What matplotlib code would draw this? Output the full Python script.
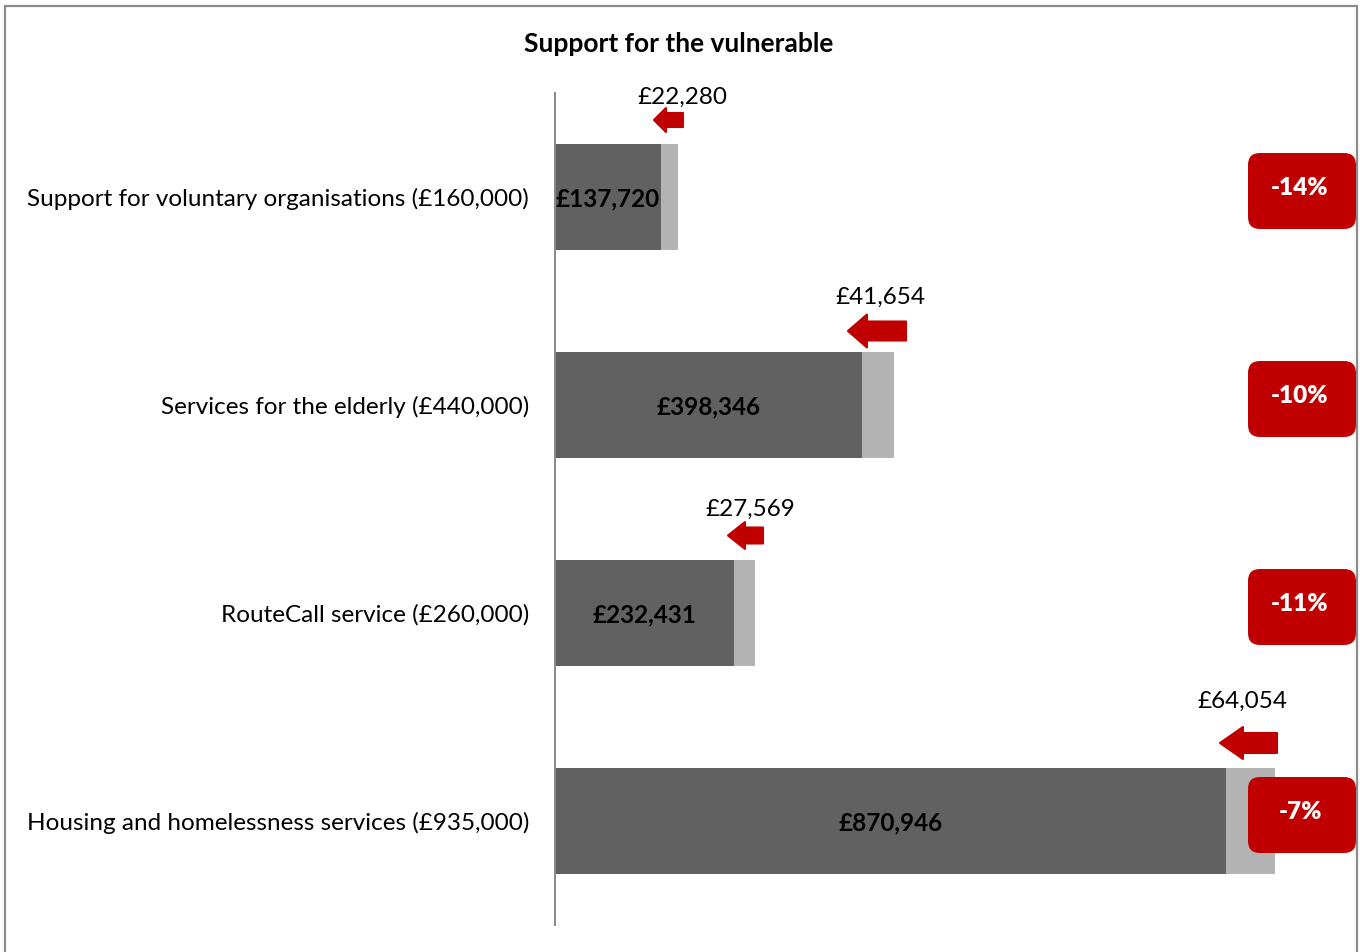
import matplotlib
matplotlib.use("Agg")
import matplotlib.pyplot as plt
from matplotlib.patches import Polygon, FancyBboxPatch
from matplotlib.lines import Line2D
from matplotlib import transforms as mtransforms

# Budget data
categories = [
    "Support for voluntary organisations (£160,000)",
    "Services for the elderly (£440,000)",
    "RouteCall service (£260,000)",
    "Housing and homelessness services (£935,000)",
]
budget_total = [160000, 440000, 260000, 935000]
budget_after = [137720, 398346, 232431, 870946]
reduction = [22280, 41654, 27569, 64054]
reduction_pct = ["-14%", "-10%", "-11%", "-7%"]

# Styling
DARK = "#616161"
LIGHT = "#b3b3b3"
RED = "#c00000"
FRAME = "#8c8c8c"
FONT = ["Lato", "DejaVu Sans"]
plt.rcParams["font.family"] = FONT
FS = 17.5

W, H = 1360, 952
fig = plt.figure(figsize=(W / 100, H / 100), dpi=100)
fig.patch.set_facecolor("white")

# Axes: category axis line at x=555px, rows between y=93px and y=925px
ax_left, ax_right = 555, 555 + 770.14
ax_top, ax_bottom = 93, 925
ax = fig.add_axes([ax_left / W, 1 - ax_bottom / H,
                   (ax_right - ax_left) / W, (ax_bottom - ax_top) / H])
ax.set_xlim(0, 1_000_000)
ax.set_ylim(len(categories) - 0.5, -0.5)
for s in ["top", "right", "bottom"]:
    ax.spines[s].set_visible(False)
ax.spines["left"].set_color("#888888")
ax.spines["left"].set_linewidth(1.4)
ax.set_xticks([])
ax.set_yticks([])
ax.patch.set_alpha(0)

rows = list(range(len(categories)))
bar_h = 0.514
ax.barh(rows, budget_after, height=bar_h, color=DARK, zorder=2)
ax.barh(rows, reduction, left=budget_after, height=bar_h, color=LIGHT, zorder=2)

PX_ROW = (ax_bottom - ax_top) / len(categories)   # pixels per row
PX_X = 1_000_000 / (ax_right - ax_left)           # pounds per pixel

# Category labels and values inside the bars
for i in rows:
    ax.text(-26 * PX_X, i + 2 / PX_ROW, categories[i], ha="right",
            va="center", fontsize=FS, color="black", clip_on=False)
    ax.text(budget_after[i] / 2, i + 2 / PX_ROW, f"£{budget_after[i]:,}",
            ha="center", va="center", fontsize=FS, fontweight="bold",
            color="black", zorder=3)

# Reduction arrows (pointing left) with their amounts above
arrow_right = [166200, 455800, 270100, 937500]
arrow_tip = [128500, 380400, 224600, 863500]
arrow_head = [144100, 405100, 246700, 893300]
arrow_dy = [-77, -74, -77.5, -78]        # px from row centre
arrow_body = [7, 9.5, 8, 10]             # half height of shaft, px
arrow_half = [12, 16.5, 13.5, 16]        # half height of head, px
label_dx = [6000, -18000, -7000, -43000]
label_dy = [-100, -108, -104, -120]

for i in rows:
    yc = i + arrow_dy[i] / PX_ROW
    b = arrow_body[i] / PX_ROW
    h = arrow_half[i] / PX_ROW
    pts = [
        (arrow_tip[i], yc),
        (arrow_head[i], yc - h),
        (arrow_head[i], yc - b),
        (arrow_right[i], yc - b),
        (arrow_right[i], yc + b),
        (arrow_head[i], yc + b),
        (arrow_head[i], yc + h),
    ]
    ax.add_patch(Polygon(pts, closed=True, facecolor=RED, edgecolor=RED,
                         linewidth=1.5, joinstyle="round", clip_on=False,
                         zorder=4))
    ax.text(budget_total[i] + label_dx[i], i + label_dy[i] / PX_ROW,
            f"£{reduction[i]:,}", ha="center", va="center", fontsize=FS,
            color="black", clip_on=False)

# Percentage badges on the right, drawn in pixel space
pix = mtransforms.Affine2D().scale(1, -1).translate(0, H)  # top-down pixels
for i in rows:
    yc = ax_top + PX_ROW * (i + 0.5)
    badge = FancyBboxPatch((1248, yc - 44), 108, 76,
                           boxstyle="round,pad=0,rounding_size=12",
                           facecolor=RED, edgecolor="none",
                           transform=pix, zorder=5)
    fig.add_artist(badge)
    fig.text(1300 / W, 1 - (yc - 9) / H, reduction_pct[i], ha="center",
             va="center", fontsize=FS, fontweight="heavy", color="white",
             zorder=6)

# Title
fig.text(679 / W, 1 - 44 / H, "Support for the vulnerable", ha="center",
         va="center", fontsize=19, fontweight="bold", color="black")

# Outer frame (left, top, right)
frame_x = [5 / W, 5 / W, 1357 / W, 1357 / W]
frame_y = [0, 1 - 5.5 / H, 1 - 5.5 / H, 0]
fig.add_artist(Line2D(frame_x, frame_y, color=FRAME, linewidth=1.6,
                      transform=fig.transFigure, solid_joinstyle="miter"))

fig.savefig("out.png", dpi=100, facecolor="white")
